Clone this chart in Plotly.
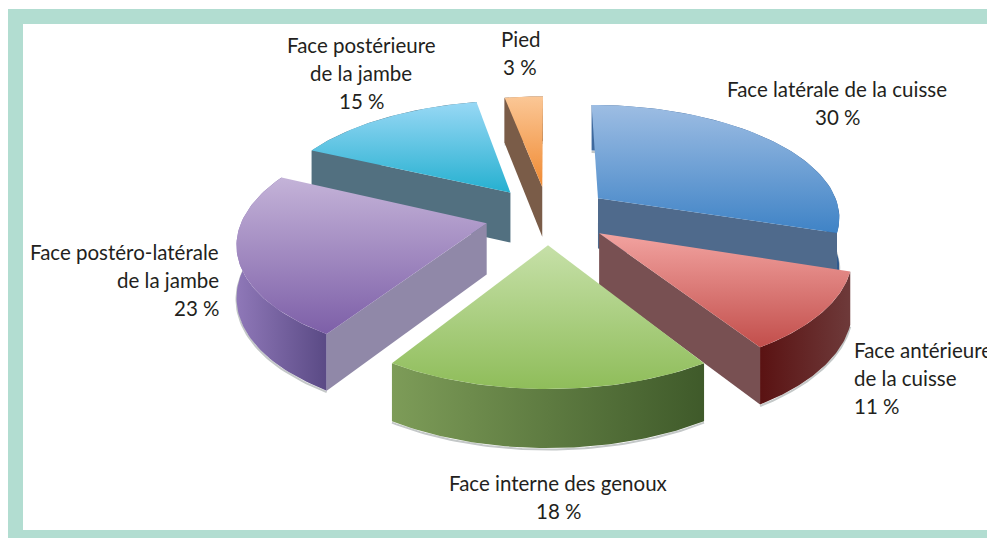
import numpy as np
import plotly.graph_objects as go

# Data
names = ["Face latérale de la cuisse", "Face antérieure de la cuisse", "Face interne des genoux",
         "Face postéro-latérale de la jambe", "Face postérieure de la jambe", "Pied"]
values = [30, 11, 18, 23, 15, 3]
label_lines = [["Face latérale de la cuisse"], ["Face antérieure", "de la cuisse"], ["Face interne des genoux"],
               ["Face postéro-latérale", "de la jambe"], ["Face postérieure", "de la jambe"], ["Pied"]]

# Styles
top_grad = [("#9dbde3", "#3f83c6"), ("#f2a3a0", "#c24e4b"), ("#c6e0a8", "#8fbd5a"),
            ("#c4b3d8", "#7d5fa8"), ("#98d8f5", "#25b0d0"), ("#fbc796", "#f08a32")]
rim_grad = [("#3f6a9e", "#2f5a8e"), ("#5a1212", "#6e3a3a"), ("#7d9c58", "#3f5a2a"),
            ("#8f78b8", "#5a4a85"), ("#4f7080", "#4f7080"), ("#7d5f48", "#7d5f48")]
wall_col = ["#4f6a8c", "#785052", None, "#9088a8", "#527080", "#7a5c48"]
wall_side = [1, 1, None, 0, 0, 0]      # which cut face shows
order = [5, 4, 0, 3, 1, 2]             # painter's order
label_pos = [(837, 89, "center"), (852, 350, "left"), (558, 483, "center"),
             (221, 252, "right"), (361, 45, "center"), (520, 39, "center")]
line_h = 28
frame = "#b2ddd1"

# Projection of the exploded pie
CX, CY, RX, RY, P, T = 548, 215, 243, 112, 0.15, 51
EXPLODE = 0.26


def proj(u, v, down=0.0):
    w = 1 + P * v
    return CX + RX * u / w, CY - RY * v / w + down * T / w ** 0.7


def arc(t0, t1, mid, down=0.0, n=60):
    th = np.linspace(t0, t1, n)
    eu, ev = EXPLODE * np.sin(mid), EXPLODE * np.cos(mid)
    return proj(np.sin(th) + eu, np.cos(th) + ev, down)


def apex(mid, down=0.0):
    return proj(EXPLODE * np.sin(mid), EXPLODE * np.cos(mid), down)


def poly(xs, ys, c0, c1, kind):
    xs, ys = np.asarray(xs, float), np.asarray(ys, float)
    xs = np.append(xs, xs[0])
    ys = np.append(ys, ys[0])
    ref = ys if kind == "vertical" else xs
    return go.Scatter(x=xs, y=ys, mode="lines", line=dict(width=0), fill="toself", hoverinfo="skip",
                      fillgradient=dict(type=kind, start=float(ref.min()), stop=float(ref.max()),
                                        colorscale=[[0, c0], [1, c1]]),
                      showlegend=False)


edges = np.concatenate([[0], np.cumsum(values)]) / sum(values) * 2 * np.pi
fig = go.Figure()
for i in order:
    t0, t1 = edges[i], edges[i + 1]
    mid = (t0 + t1) / 2
    ax, ay = arc(t0, t1, mid)
    bx, by = arc(t0, t1, mid, 1)
    # soft shadow, rim
    fig.add_trace(go.Scatter(x=bx, y=by + 1.5, mode="lines", line=dict(color="#c4c8c8", width=2),
                             hoverinfo="skip", showlegend=False))
    fig.add_trace(poly(np.r_[ax, bx[::-1]], np.r_[ay, by[::-1]], rim_grad[i][0], rim_grad[i][1], "horizontal"))
    # cut face
    if wall_side[i] is not None:
        k = -1 if wall_side[i] else 0
        px0, py0 = apex(mid)
        px1, py1 = apex(mid, 1)
        fig.add_trace(go.Scatter(x=[px0, ax[k], bx[k], px1, px0], y=[py0, ay[k], by[k], py1, py0], mode="lines",
                                 line=dict(width=0), fill="toself", fillcolor=wall_col[i],
                                 hoverinfo="skip", showlegend=False))
    # top face
    px0, py0 = apex(mid)
    fig.add_trace(poly(np.r_[px0, ax], np.r_[py0, ay], top_grad[i][0], top_grad[i][1], "vertical"))

annotations = []
for i, lines in enumerate(label_lines):
    x, y, anchor = label_pos[i]
    for j, txt in enumerate(lines + [f"{values[i]} %"]):
        annotations.append(dict(x=x, y=y + j * line_h, text=txt, showarrow=False, xanchor=anchor, yanchor="middle",
                                xref="x", yref="y", font=dict(family="Lato", size=20.5, color="#231f20")))

fig.update_layout(
    width=987, height=538, margin=dict(l=0, r=0, t=0, b=0), paper_bgcolor="white", plot_bgcolor="white",
    xaxis=dict(range=[0, 987], visible=False, fixedrange=True),
    yaxis=dict(range=[538, 0], visible=False, fixedrange=True),
    annotations=annotations,
    shapes=[dict(type="rect", xref="x", yref="y", x0=8, x1=1000, y0=9, y1=540, fillcolor=frame, line_width=0, layer="below"),
            dict(type="rect", xref="x", yref="y", x0=23, x1=1000, y0=24, y1=530, fillcolor="white", line_width=0, layer="below")],
)
fig.write_html("out.html", config=dict(displayModeBar=False),
               post_script="document.body.style.margin='0';document.documentElement.style.overflow='hidden';")
